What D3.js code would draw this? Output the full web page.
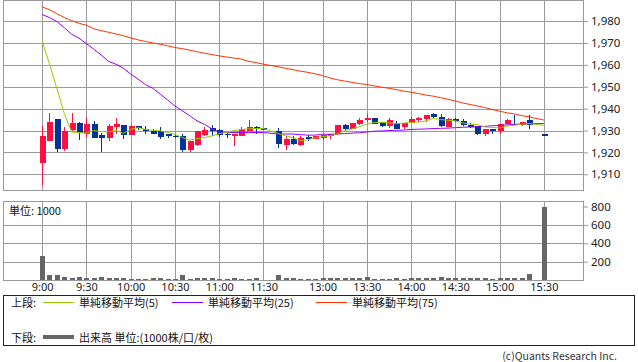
<!DOCTYPE html>
<html>
<head>
<meta charset="utf-8">
<script src="https://cdn.jsdelivr.net/npm/d3@7"></script>
<style>
  body { margin: 0; background: #fff; }
  svg { display: block; font-family: "Noto Sans CJK JP", "Noto Sans", sans-serif; }
</style>
</head>
<body>
<div id="chart"></div>
<script>
// 5 minute bars, 9:00 - 11:30, lunch gap, 12:30 - 15:30
const fmt = m => `${Math.floor(m / 60)}:${String(m % 60).padStart(2, "0")}`
const slots = []
for (let m = 9 * 60; m <= 11 * 60 + 30; m += 5) slots.push(fmt(m))
slots.push("gap")
for (let m = 12 * 60 + 30; m <= 15 * 60 + 30; m += 5) slots.push(fmt(m))

const timeTicks = ["9:00", "9:30", "10:00", "10:30", "11:00", "11:30", "13:00", "13:30", "14:00", "14:30", "15:00", "15:30"]
const priceTicks = [1910, 1920, 1930, 1940, 1950, 1960, 1970, 1980]
const volTicks = [200, 400, 600, 800]
const volGridTicks = [200, 400, 600]

// one entry per slot (null = no trade)
const opens = [
  1915.0, 1925.3, 1935.2, 1921.6, 1930.1, 1933.3, 1928.2, 1933.2, 1927.8, 1926.5,
  1931.5, 1932.4, 1927.8, 1932.0, 1930.9, 1930.0, 1929.7, 1928.3, 1927.6, 1927.6,
  1921.0, 1923.3, 1927.9, 1931.0, 1930.1, 1928.3, 1927.4, 1927.5, 1929.7, 1931.7,
  1931.0, null, 1929.8, 1923.3, 1926.2, 1923.3, 1927.1, 1926.2, 1926.8, 1927.4,
  1928.3, 1932.5, 1930.5, 1933.0, 1935.0, 1935.9, 1934.0, 1932.0, 1933.5, 1931.6,
  1933.6, 1934.7, 1935.2, 1937.5, 1936.0, 1931.6, 1935.2, 1934.4, 1932.7, 1932.2,
  1928.6, 1930.6, 1929.7, 1932.9, 1933.2, 1932.4, 1934.7, null, 1928.2]
const highs = [
  1932.0, 1938.0, 1935.2, 1931.6, 1937.8, 1933.8, 1936.0, 1934.4, 1928.8, 1933.2,
  1935.6, 1932.4, 1932.4, 1932.2, 1932.0, 1930.5, 1931.6, 1928.3, 1928.5, 1928.3,
  1925.1, 1930.0, 1931.8, 1932.4, 1930.6, 1929.4, 1928.6, 1931.7, 1934.7, 1932.1,
  1931.0, null, 1931.2, 1927.4, 1927.4, 1927.4, 1928.0, 1927.5, 1928.0, 1928.6,
  1932.4, 1933.2, 1933.5, 1935.5, 1937.6, 1935.9, 1934.0, 1935.5, 1934.4, 1933.5,
  1936.0, 1936.0, 1937.0, 1938.0, 1937.4, 1935.9, 1935.5, 1935.3, 1933.3, 1932.2,
  1930.5, 1930.6, 1933.2, 1935.3, 1937.0, 1933.9, 1937.0, null, 1928.2]
const lows = [
  1904.9, 1925.0, 1920.4, 1920.7, 1929.8, 1925.5, 1927.1, 1926.6, 1920.0, 1925.1,
  1928.5, 1926.0, 1927.8, 1930.1, 1928.6, 1928.5, 1926.3, 1926.5, 1926.5, 1920.1,
  1920.2, 1923.0, 1927.5, 1927.5, 1927.1, 1926.8, 1922.8, 1927.5, 1929.7, 1928.2,
  1930.8, null, 1922.1, 1921.0, 1923.3, 1922.8, 1925.3, 1926.2, 1925.5, 1926.2,
  1928.0, 1929.8, 1930.5, 1932.4, 1933.8, 1933.2, 1931.6, 1931.0, 1930.9, 1930.9,
  1933.6, 1933.7, 1934.0, 1935.5, 1931.6, 1931.6, 1933.7, 1932.1, 1931.1, 1927.9,
  1927.6, 1928.6, 1928.6, 1932.9, 1932.4, 1931.9, 1930.9, null, 1928.2]
const closes = [
  1927.4, 1933.8, 1921.7, 1929.8, 1933.3, 1928.7, 1932.9, 1926.6, 1926.8, 1932.0,
  1932.9, 1927.8, 1932.0, 1931.2, 1929.9, 1928.5, 1927.1, 1927.4, 1927.3, 1921.2,
  1925.1, 1929.7, 1930.1, 1929.7, 1927.9, 1928.0, 1928.6, 1930.6, 1931.7, 1930.6,
  1930.9, null, 1924.0, 1925.9, 1923.8, 1926.5, 1926.0, 1927.5, 1927.8, 1928.6,
  1932.4, 1930.6, 1933.3, 1934.8, 1935.8, 1933.2, 1932.2, 1934.7, 1930.9, 1933.3,
  1935.2, 1935.5, 1937.0, 1936.2, 1932.1, 1935.2, 1934.4, 1932.7, 1931.5, 1928.3,
  1930.5, 1929.8, 1933.2, 1934.7, 1932.4, 1933.7, 1932.5, null, 1928.2]

const ma5 = [
  1970.8, 1960.4, 1949.2, 1937.8, 1929.3, 1929.1, 1928.8, 1930.0, 1929.5, 1929.4,
  1930.1, 1928.7, 1930.5, 1931.3, 1930.5, 1930.1, 1929.9, 1929.1, 1928.2, 1926.8,
  1925.6, 1926.3, 1926.8, 1927.5, 1928.6, 1929.1, 1930.0, 1930.4, 1930.8, 1930.9,
  1930.9, null, 1928.6, 1927.6, 1926.6, 1925.4, 1925.8, 1926.7, 1927.2, 1927.6,
  1928.4, 1930.0, 1930.7, 1931.8, 1932.9, 1933.7, 1933.7, 1933.5, 1933.1, 1933.4,
  1933.7, 1933.9, 1934.4, 1935.5, 1935.0, 1934.7, 1934.4, 1933.5, 1932.9, 1932.7,
  1931.6, 1931.4, 1931.2, 1932.0, 1932.4, 1932.9, 1933.2, null, 1932.4]
const ma25 = [
  1983.0, 1981.6, 1979.8, 1977.0, 1974.0, 1972.2, 1969.7, 1967.2, 1964.5, 1961.6,
  1960.3, 1958.5, 1955.8, 1953.5, 1951.0, 1949.3, 1946.6, 1944.0, 1941.2, 1939.0,
  1936.8, 1934.4, 1932.8, 1930.8, 1929.3, 1929.1, 1929.1, 1929.1, 1929.1, 1929.1,
  1929.1, null, 1928.4, 1928.4, 1928.4, 1928.1, 1927.9, 1927.9, 1928.3, 1928.3,
  1928.4, 1928.6, 1928.8, 1929.0, 1929.3, 1929.7, 1929.8, 1930.0, 1930.1, 1930.2,
  1930.5, 1930.6, 1930.7, 1930.9, 1931.0, 1931.1, 1931.3, 1931.5, 1931.6, 1931.7,
  1931.9, 1932.2, 1932.3, 1932.6, 1932.8, 1933.0, 1933.1, null, 1933.2]
const ma75 = [
  1986.5, 1985.2, 1983.4, 1981.6, 1980.2, 1979.0, 1978.1, 1976.5, 1975.6, 1974.9,
  1974.1, 1973.3, 1972.3, 1971.4, 1970.7, 1970.0, 1969.4, 1968.7, 1967.9, 1967.4,
  1966.7, 1966.0, 1965.3, 1964.7, 1964.1, 1963.6, 1963.1, 1962.6, 1961.6, 1961.0,
  1960.3, null, 1959.1, 1958.4, 1957.8, 1957.1, 1956.6, 1955.9, 1955.1, 1954.0,
  1953.2, 1952.6, 1952.0, 1951.4, 1951.0, 1950.4, 1949.8, 1949.3, 1948.7, 1948.0,
  1947.5, 1946.9, 1946.2, 1945.7, 1945.0, 1944.3, 1943.5, 1942.6, 1941.9, 1941.2,
  1940.5, 1939.6, 1938.8, 1938.1, 1937.6, 1936.8, 1936.2, null, 1934.8]

const volumes = [
  265, 55, 55, 35, 25, 35, 25, 25, 35, 25,
  25, 25, 15, 15, 15, 25, 25, 15, 15, 55,
  15, 25, 25, 25, 15, 15, 25, 15, 15, 25,
  5, null, 55, 25, 25, 15, 15, 15, 20, 25,
  20, 25, 20, 20, 38, 15, 15, 15, 25, 15,
  25, 20, 25, 25, 38, 20, 20, 25, 25, 25,
  20, 15, 25, 25, 25, 25, 60, null, 790]

const width = 638
const height = 362
const left = 3, right = 583
const pTop = 0.5, pBottom = 190.5
const vTop = 201, vBottom = 280
const gridColor = "#9a9a9a"
const upColor = "#ff1040"
const downColor = "#003399"

const svg = d3.select("#chart").append("svg")
  .attr("width", width)
  .attr("height", height)
  .attr("viewBox", [0, 0, width, height])

const x = d3.scalePoint()
  .domain(slots)
  .range([left, right])
  .padding(5.3)

const y = d3.scaleLinear()
  .domain([1902.6, 1989.4])
  .range([pBottom, pTop])

const yv = d3.scaleLinear()
  .domain([0, 860])
  .range([vBottom, vTop])

const px = v => Math.round(v) + 0.5

// grids
const grid = svg.append("g")
  .attr("stroke", gridColor)
  .attr("stroke-width", 1)
  .attr("shape-rendering", "crispEdges")

grid.selectAll(".hp").data(priceTicks).join("line")
  .attr("x1", left).attr("x2", right)
  .attr("y1", d => px(y(d))).attr("y2", d => px(y(d)))

grid.selectAll(".hv").data(volGridTicks).join("line")
  .attr("class", "hv")
  .attr("x1", left).attr("x2", right)
  .attr("y1", d => px(yv(d))).attr("y2", d => px(yv(d)))

grid.selectAll(".vp").data(timeTicks).join("line")
  .attr("class", "vp")
  .attr("x1", d => px(x(d))).attr("x2", d => px(x(d)))
  .attr("y1", pTop).attr("y2", pBottom)

grid.selectAll(".vv").data(timeTicks).join("line")
  .attr("class", "vv")
  .attr("x1", d => px(x(d))).attr("x2", d => px(x(d)))
  .attr("y1", vTop).attr("y2", vBottom)

// panel frames
svg.append("rect")
  .attr("x", left + 0.5).attr("y", pTop)
  .attr("width", right - left).attr("height", pBottom - pTop)
  .attr("fill", "none").attr("stroke", gridColor)
  .attr("shape-rendering", "crispEdges")

svg.append("rect")
  .attr("x", left + 0.5).attr("y", vTop + 0.5)
  .attr("width", right - left).attr("height", vBottom - vTop)
  .attr("fill", "none").attr("stroke", gridColor)
  .attr("shape-rendering", "crispEdges")

// axes
const styleAxis = g => {
  g.select(".domain").remove()
  g.selectAll(".tick line").attr("stroke", gridColor)
  g.selectAll(".tick text")
    .attr("fill", "#222")
    .attr("font-size", 11.5)
    .attr("font-family", "'Noto Sans', sans-serif")
}

svg.append("g")
  .attr("transform", `translate(${right},0)`)
  .call(d3.axisRight(y).tickValues(priceTicks).tickFormat(d3.format(",")).tickSize(5).tickPadding(3))
  .call(styleAxis)

svg.append("g")
  .attr("transform", `translate(${right},0)`)
  .call(d3.axisRight(yv).tickValues(volTicks).tickSize(5).tickPadding(3))
  .call(styleAxis)

svg.append("g")
  .attr("transform", `translate(0,${vBottom})`)
  .call(d3.axisBottom(x).tickValues(timeTicks).tickSize(0).tickPadding(3))
  .call(styleAxis)
  .call(g => g.selectAll(".tick text").attr("font-size", 11))

// candles
const idx = d3.range(slots.length).filter(i => opens[i] !== null)

const candles = svg.append("g").attr("shape-rendering", "crispEdges")
  .selectAll("g").data(idx).join("g")
  .attr("fill", i => closes[i] > opens[i] ? upColor : downColor)
  .attr("stroke", i => closes[i] > opens[i] ? upColor : downColor)

candles.append("line")
  .attr("x1", i => px(x(slots[i]))).attr("x2", i => px(x(slots[i])))
  .attr("y1", i => y(highs[i])).attr("y2", i => y(lows[i]))

candles.append("rect")
  .attr("stroke", "none")
  .attr("x", i => Math.round(x(slots[i])) - 3 + 0.5)
  .attr("width", 6)
  .attr("y", i => y(Math.max(opens[i], closes[i])))
  .attr("height", i => Math.max(1.2, Math.abs(y(opens[i]) - y(closes[i]))))

// moving averages
const line = d3.line()
  .x(i => x(slots[i]))

const mas = [
  { values: ma75, color: "#ff3300" },
  { values: ma25, color: "#9900ff" },
  { values: ma5, color: "#99cc00" }
]

mas.forEach(m => {
  svg.append("path")
    .datum(idx.filter(i => m.values[i] !== null))
    .attr("fill", "none")
    .attr("stroke", m.color)
    .attr("stroke-width", 1)
    .attr("d", line.y(i => y(m.values[i])))
})

// volume
svg.append("g")
  .attr("fill", "#666")
  .attr("shape-rendering", "crispEdges")
  .selectAll("rect")
  .data(d3.range(slots.length).filter(i => volumes[i] !== null))
  .join("rect")
  .attr("x", i => Math.round(x(slots[i])) - 2)
  .attr("width", 5)
  .attr("y", i => yv(volumes[i]))
  .attr("height", i => vBottom - yv(volumes[i]))

svg.append("text")
  .attr("x", 9).attr("y", 210)
  .attr("dominant-baseline", "central")
  .attr("font-size", 11)
  .attr("fill", "#111")
  .text("単位: 1000")

// legend box
svg.append("rect")
  .attr("x", 3.5).attr("y", 295.5)
  .attr("width", 631).attr("height", 50)
  .attr("fill", "none").attr("stroke", "#222")
  .attr("shape-rendering", "crispEdges")

const legend = svg.append("g")
  .attr("font-size", 11)
  .attr("fill", "#111")
  .attr("dominant-baseline", "central")

legend.append("text").attr("x", 11).attr("y", 302).text("上段:")
legend.append("text").attr("x", 11).attr("y", 337).text("下段:")

const legendItems = [
  { x: 43, label: "単純移動平均(5)", color: "#99cc00" },
  { x: 172, label: "単純移動平均(25)", color: "#9900ff" },
  { x: 316, label: "単純移動平均(75)", color: "#ff3300" }
]

legendItems.forEach(d => {
  legend.append("line")
    .attr("x1", d.x).attr("x2", d.x + 31)
    .attr("y1", 302.5).attr("y2", 302.5)
    .attr("stroke", d.color)
  legend.append("text").attr("x", d.x + 36).attr("y", 302).text(d.label)
})

legend.append("line")
  .attr("x1", 43).attr("x2", 74)
  .attr("y1", 337).attr("y2", 337)
  .attr("stroke", "#666").attr("stroke-width", 4)
legend.append("text").attr("x", 79).attr("y", 337).text("出来高 単位:(1000株/口/枚)")

svg.append("text")
  .attr("x", 617).attr("y", 355)
  .attr("text-anchor", "end")
  .attr("dominant-baseline", "central")
  .attr("font-size", 10.5)
  .attr("fill", "#333")
  .text("(c)Quants Research Inc.")
</script>
</body>
</html>
